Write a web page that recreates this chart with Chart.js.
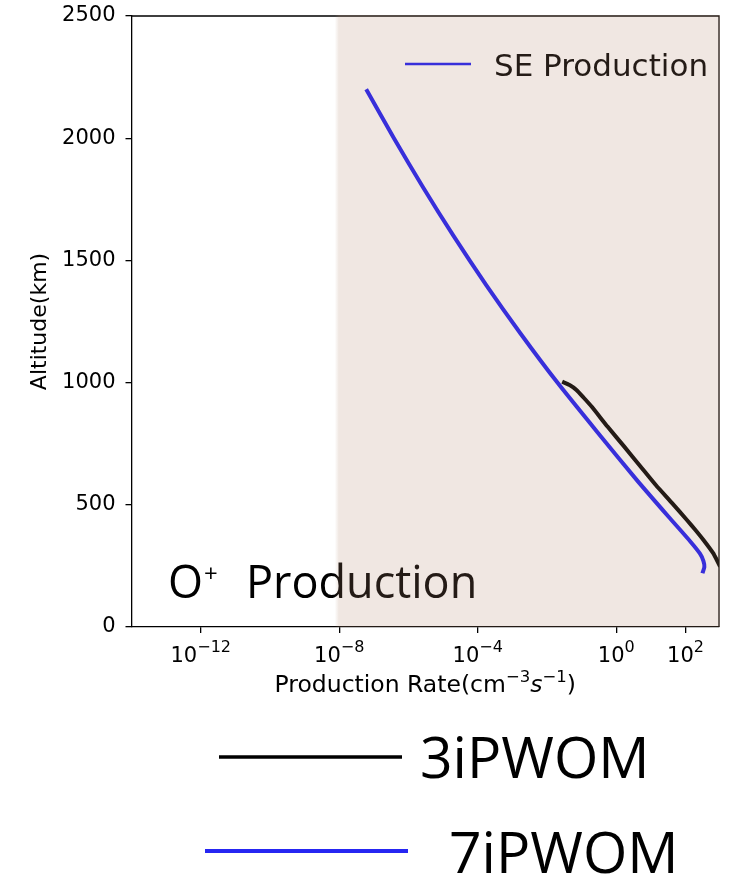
<!DOCTYPE html>
<html>
<head>
<meta charset="utf-8">
<script src="https://cdn.jsdelivr.net/npm/chart.js@4/dist/chart.umd.min.js"></script>
<style>
  html, body { margin: 0; padding: 0; background: #ffffff; }
  #wrap { width: 738px; height: 883px; position: relative; }
</style>
</head>
<body>
<div id="wrap"><canvas id="c" width="738" height="883"></canvas></div>
<script>
// O+ production rate profiles (cm^-3 s^-1) against altitude (km)
const altitude7i = [2200, 2000, 1800, 1600, 1400, 1200, 1000, 800, 600, 450, 350, 300, 270, 245, 220];
const rate7i     = [6.0e-8, 3.8e-7, 2.6e-6, 2.0e-5, 1.74e-4, 1.74e-3, 2.0e-2, 0.275, 4.0, 33, 138, 263, 331, 351, 309];

const altitude3i = [1004, 990, 970, 940, 900, 820, 740, 656, 580, 506, 438, 400, 356, 302, 270, 247, 220];
const rate3i     = [0.0275, 0.045, 0.071, 0.112, 0.2, 0.56, 1.66, 5.1, 14.1, 41.7, 110, 186, 331, 631, 832, 1000, 1200];

// axis ticks
const xTickValues = [1e-12, 1e-8, 1e-4, 1, 100];
const xTickBases = ['10', '10', '10', '10', '10'];
const xTickExponents = ['\u221212', '\u22128', '\u22124', '0', '2'];
const yTickValues = [0, 500, 1000, 1500, 2000, 2500];

// shaded SE production band (lower rate bound)
const bandStart = 8.5e-9;

const seriesNames = ['3iPWOM', '7iPWOM'];
const insideLegendLabel = 'SE Production';

const BLUE = '#1a1af5';
const BLACK = '#000000';

function toPoints(xs, ys) {
  return xs.map((x, i) => ({ x: x, y: ys[i] }));
}

// draw a run of [text, font, dy] pieces starting at x on baseline y
function drawRuns(ctx, runs, x, y) {
  runs.forEach(r => {
    ctx.font = r[1];
    ctx.fillText(r[0], x, y + r[2]);
    x += ctx.measureText(r[0]).width;
  });
}
function runsWidth(ctx, runs) {
  let w = 0;
  runs.forEach(r => { ctx.font = r[1]; w += ctx.measureText(r[0]).width; });
  return w;
}

const decor = {
  id: 'decor',
  afterDraw(chart) {
    const ctx = chart.ctx;
    const area = chart.chartArea;
    const xs = chart.scales.x;

    ctx.save();
    // top and right spines
    ctx.strokeStyle = '#000';
    ctx.lineWidth = 1.3;
    ctx.beginPath();
    ctx.moveTo(area.left, area.top);
    ctx.lineTo(area.right, area.top);
    ctx.lineTo(area.right, area.bottom);
    ctx.stroke();

    // x tick labels: base with raised exponent
    ctx.fillStyle = '#000';
    ctx.textBaseline = 'alphabetic';
    ctx.textAlign = 'left';
    xTickValues.forEach((v, i) => {
      const px = xs.getPixelForValue(v);
      const runs = [[xTickBases[i], '21px "DejaVu Sans"', 0], [xTickExponents[i], '16px "DejaVu Sans"', -10]];
      const w = runsWidth(ctx, runs);
      drawRuns(ctx, runs, px - w / 2, 662);
    });

    // x axis title
    const titleRuns = [
      ['Production Rate(cm', '23.5px "DejaVu Sans"', 0],
      ['\u22123', '16.5px "DejaVu Sans"', -10],
      ['s', 'oblique 23.5px "DejaVu Sans"', 0],
      ['\u22121', '16.5px "DejaVu Sans"', -10],
      [')', '23.5px "DejaVu Sans"', 0]
    ];
    const tw = runsWidth(ctx, titleRuns);
    drawRuns(ctx, titleRuns, (area.left + area.right) / 2 - tw / 2, 692);

    // legend inside the axes
    ctx.strokeStyle = BLUE;
    ctx.lineWidth = 2.7;
    ctx.beginPath();
    ctx.moveTo(405, 64);
    ctx.lineTo(471, 64);
    ctx.stroke();
    ctx.fillStyle = '#000';
    ctx.font = '31px "DejaVu Sans"';
    ctx.fillText(insideLegendLabel, 494, 76);

    // panel label
    ctx.font = '45px "Open Sans"';
    ctx.fillText('O', 168, 598);
    const wO = ctx.measureText('O').width;
    ctx.font = '24px "Open Sans"';
    ctx.fillText('+', 168 + wO + 1, 582);
    ctx.font = '45px "Open Sans"';
    ctx.fillText('Production', 246, 598);

    // translucent band over the SE production range
    const bx = xs.getPixelForValue(bandStart);
    const grad = ctx.createLinearGradient(bx - 2, 0, bx + 2, 0);
    grad.addColorStop(0, 'rgba(180,135,110,0)');
    grad.addColorStop(1, 'rgba(180,135,110,0.2)');
    ctx.fillStyle = grad;
    ctx.fillRect(bx - 2, area.top - 1, 4, area.bottom - area.top + 1);
    ctx.fillStyle = 'rgba(180,135,110,0.2)';
    ctx.fillRect(bx + 2, area.top - 1, area.right + 1 - (bx + 2), area.bottom - area.top + 1);

    // figure legend below the axes
    ctx.strokeStyle = BLACK;
    ctx.lineWidth = 3.3;
    ctx.beginPath();
    ctx.moveTo(219, 757);
    ctx.lineTo(402, 757);
    ctx.stroke();
    ctx.strokeStyle = '#2626f2';
    ctx.lineWidth = 4;
    ctx.beginPath();
    ctx.moveTo(205, 851);
    ctx.lineTo(408, 851);
    ctx.stroke();
    ctx.fillStyle = '#000';
    ctx.font = '57px "Open Sans"';
    ctx.fillText(seriesNames[0], 420, 778);
    ctx.fillText(seriesNames[1], 449, 873);
    ctx.restore();
  }
};

new Chart(document.getElementById('c'), {
  type: 'scatter',
  data: {
    datasets: [
      {
        label: seriesNames[1],
        data: toPoints(rate7i, altitude7i),
        showLine: true,
        borderColor: BLUE,
        backgroundColor: BLUE,
        borderWidth: 4,
        pointRadius: 0,
        tension: 0.2,
        clip: 0,
        order: 0
      },
      {
        label: seriesNames[0],
        data: toPoints(rate3i, altitude3i),
        showLine: true,
        borderColor: BLACK,
        backgroundColor: BLACK,
        borderWidth: 4,
        pointRadius: 0,
        tension: 0.15,
        clip: 0,
        order: 1
      }
    ]
  },
  options: {
    responsive: false,
    animation: false,
    devicePixelRatio: 1,
    layout: { padding: { left: 0, right: 19, top: 16, bottom: 186 } },
    plugins: { legend: { display: false }, tooltip: { enabled: false } },
    scales: {
      x: {
        type: 'logarithmic',
        min: 1e-14,
        max: 930,
        afterBuildTicks(scale) { scale.ticks = xTickValues.map(v => ({ value: v })); },
        afterFit(scale) { scale.height = 70; scale.paddingLeft = 0; scale.paddingRight = 0; },
        ticks: { display: false, autoSkip: false },
        grid: { drawOnChartArea: false, drawTicks: true, tickLength: 6, color: '#000', lineWidth: 1.3 },
        border: { display: true, color: '#000', width: 1.3 },
        title: { display: false }
      },
      y: {
        type: 'linear',
        min: 0,
        max: 2500,
        afterBuildTicks(scale) { scale.ticks = yTickValues.map(v => ({ value: v })); },
        afterFit(scale) { scale.width = 131.5; scale.paddingTop = 0; scale.paddingBottom = 0; },
        ticks: {
          color: '#000',
          font: { family: 'DejaVu Sans', size: 21 },
          padding: 10,
          callback: (v) => String(v)
        },
        grid: { drawOnChartArea: false, drawTicks: true, tickLength: 6, color: '#000', lineWidth: 1.3 },
        border: { display: true, color: '#000', width: 1.3 },
        title: {
          display: true,
          text: 'Altitude(km)',
          color: '#000',
          font: { family: 'DejaVu Sans', size: 22 },
          padding: { top: 27, bottom: 0 }
        }
      }
    }
  },
  plugins: [decor]
});
</script>
</body>
</html>
